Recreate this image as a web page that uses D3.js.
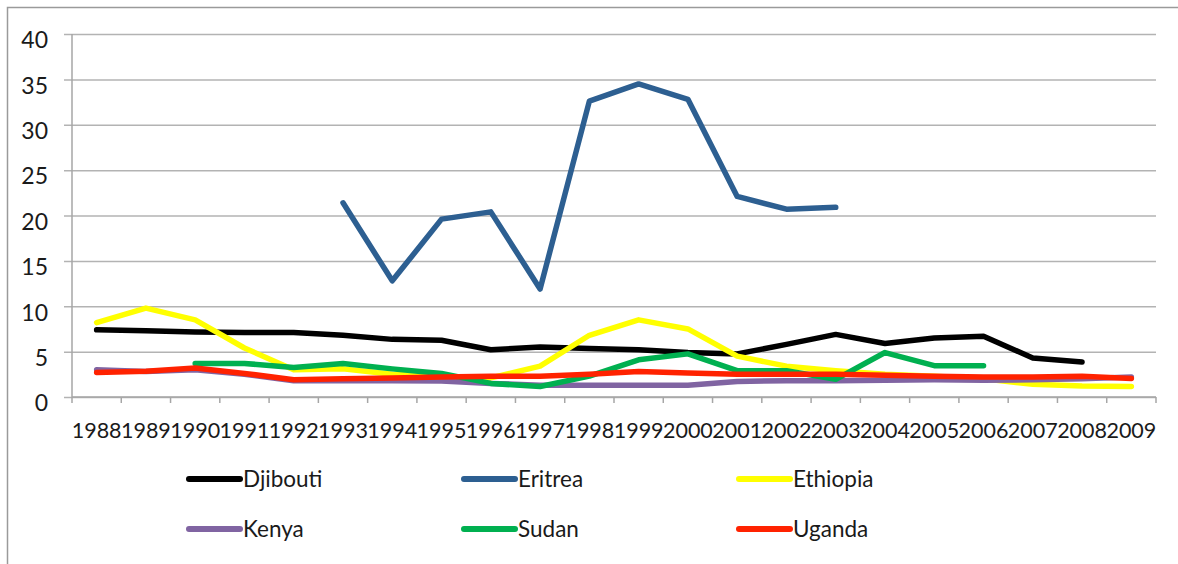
<!DOCTYPE html>
<html>
<head>
<meta charset="utf-8">
<script src="https://cdn.jsdelivr.net/npm/d3@7"></script>
<style>
  html, body { margin: 0; padding: 0; background: #fff; }
  svg text { font-family: Lato, "Open Sans", sans-serif; fill: #1a1a1a; }
</style>
</head>
<body>
<div id="chart"></div>
<script>
// Data
const years = ["1988","1989","1990","1991","1992","1993","1994","1995","1996","1997","1998",
  "1999","2000","2001","2002","2003","2004","2005","2006","2007","2008","2009"];
const yTicks = [0, 5, 10, 15, 20, 25, 30, 35, 40];

const djibouti = [7.4, 7.3, 7.15, 7.1, 7.1, 6.8, 6.35, 6.25, 5.2, 5.5, 5.35, 5.2, 4.9, 4.75, 5.8, 6.9, 5.9, 6.5, 6.7, 4.3, 3.85, null];
const eritrea  = [null, null, null, null, null, 21.4, 12.8, 19.6, 20.4, 11.9, 32.6, 34.5, 32.8, 22.1, 20.7, 20.9, null, null, null, null, null, null];
const ethiopia = [8.2, 9.8, 8.5, 5.4, 3.0, 3.1, 2.5, 2.3, 2.1, 3.4, 6.8, 8.5, 7.5, 4.5, 3.4, 2.9, 2.5, 2.3, 2.0, 1.4, 1.2, 1.15];
const kenya    = [3.0, 2.8, 3.0, 2.5, 1.8, 1.8, 1.8, 1.75, 1.5, 1.3, 1.3, 1.3, 1.3, 1.7, 1.8, 1.8, 1.85, 1.9, 1.85, 1.9, 2.0, 2.2];
const sudan    = [null, null, 3.7, 3.7, 3.25, 3.7, 3.1, 2.6, 1.5, 1.15, 2.3, 4.1, 4.75, 2.9, 2.9, 1.95, 4.9, 3.45, 3.45, null, null, null];
const uganda   = [2.7, 2.85, 3.2, 2.6, 1.9, 2.0, 2.1, 2.2, 2.3, 2.3, 2.5, 2.8, 2.65, 2.5, 2.5, 2.5, 2.4, 2.3, 2.2, 2.2, 2.3, 2.05];

const series = [
  { name: "Djibouti", color: "#000000", values: djibouti },
  { name: "Eritrea",  color: "#2d5f91", values: eritrea },
  { name: "Ethiopia", color: "#ffff00", values: ethiopia },
  { name: "Kenya",    color: "#8064a2", values: kenya },
  { name: "Sudan",    color: "#00b050", values: sudan },
  { name: "Uganda",   color: "#ff2200", values: uganda }
];

const W = 1178, H = 564;
const plot = { left: 72, right: 1156, top: 34, bottom: 397 };

const svg = d3.select("#chart").append("svg")
  .attr("width", W)
  .attr("height", H);

// outer frame (only top/left edges fall inside the picture)
svg.append("rect")
  .attr("x", 7.5).attr("y", 7.5)
  .attr("width", W).attr("height", H)
  .attr("fill", "none")
  .attr("stroke", "#9a9a9a")
  .attr("stroke-width", 1.5);

const x = d3.scaleBand().domain(years).range([plot.left, plot.right]);
const y = d3.scaleLinear().domain([0, 40]).range([plot.bottom, plot.top]);

// gridlines + y labels
const yAxis = d3.axisLeft(y)
  .tickValues(yTicks)
  .tickSize(-(plot.right - plot.left) - 8)
  .tickPadding(16)
  .tickFormat(d3.format("d"));

const gy = svg.append("g")
  .attr("transform", `translate(${plot.left - 8},0)`)
  .call(yAxis);
gy.select(".domain").remove();
gy.selectAll(".tick line")
  .attr("stroke", "#b3b3b3")
  .attr("stroke-width", 1.5);
gy.selectAll(".tick text")
  .attr("font-size", 23)
  .attr("dy", "0.6em")
  .attr("x", -16);

// y axis line
svg.append("line")
  .attr("x1", plot.left).attr("x2", plot.left)
  .attr("y1", plot.top).attr("y2", plot.bottom)
  .attr("stroke", "#a6a6a6")
  .attr("stroke-width", 1.5);

// x axis: ticks between categories
const gx = svg.append("g")
  .attr("transform", `translate(0,${plot.bottom})`);
gx.append("line")
  .attr("x1", plot.left).attr("x2", plot.right)
  .attr("stroke", "#a6a6a6")
  .attr("stroke-width", 1.5);
gx.selectAll("line.tk")
  .data(years.concat(["end"]))
  .join("line")
  .attr("class", "tk")
  .attr("x1", (d, i) => plot.left + i * x.bandwidth())
  .attr("x2", (d, i) => plot.left + i * x.bandwidth())
  .attr("y1", 0).attr("y2", 6)
  .attr("stroke", "#a6a6a6")
  .attr("stroke-width", 1.5);
gx.selectAll("text")
  .data(years)
  .join("text")
  .attr("x", d => x(d) + x.bandwidth() / 2)
  .attr("y", 41)
  .attr("text-anchor", "middle")
  .attr("font-size", 21.5)
  .text(d => d);

// series lines
const line = d3.line()
  .defined(d => d.v != null)
  .x(d => x(d.year) + x.bandwidth() / 2)
  .y(d => y(d.v));

svg.append("g")
  .selectAll("path")
  .data(series)
  .join("path")
  .attr("fill", "none")
  .attr("stroke", d => d.color)
  .attr("stroke-width", 5.5)
  .attr("stroke-linejoin", "round")
  .attr("stroke-linecap", "round")
  .attr("d", d => line(d.values.map((v, i) => ({ year: years[i], v }))));

// legend, 3 columns x 2 rows
const legendX = [189, 464, 739];
const legendY = [479, 529];

const item = svg.append("g")
  .selectAll("g")
  .data(series)
  .join("g")
  .attr("transform", (d, i) => `translate(${legendX[i % 3]},${legendY[Math.floor(i / 3)]})`);

item.append("line")
  .attr("x1", 0).attr("x2", 51)
  .attr("stroke", d => d.color)
  .attr("stroke-width", 6)
  .attr("stroke-linecap", "round");

item.append("text")
  .attr("x", 54)
  .attr("dy", "0.36em")
  .attr("font-size", 22.5)
  .text(d => d.name);
</script>
</body>
</html>
